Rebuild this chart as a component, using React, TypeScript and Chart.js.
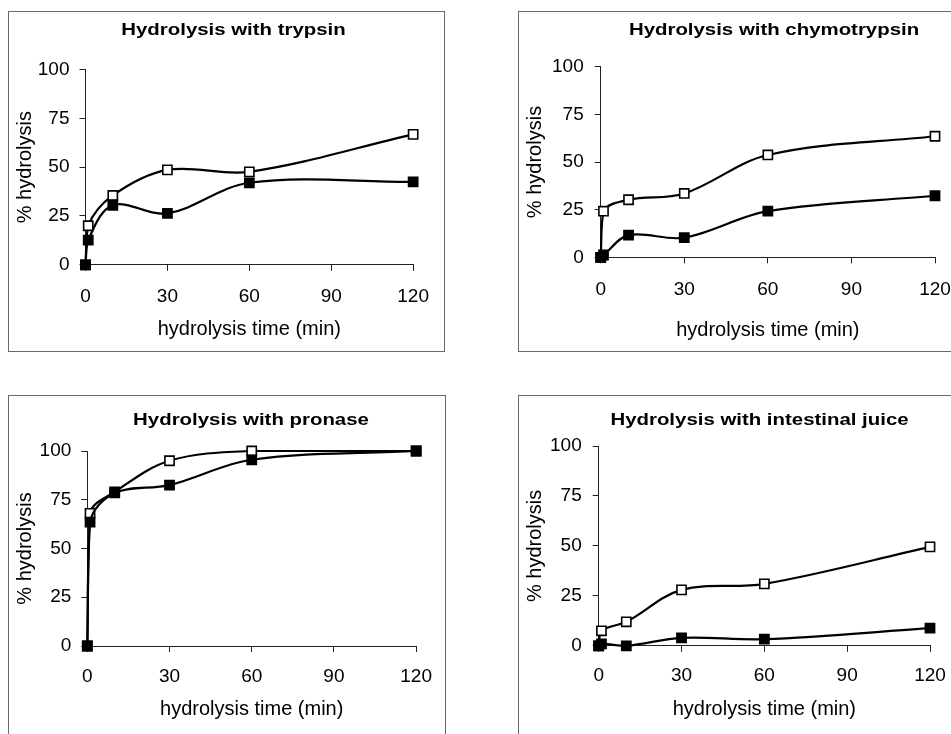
import React, { useEffect, useRef } from 'react';
import { Chart, registerables } from 'chart.js';

Chart.register(...registerables);

// ---- data ----
const timeMin = [0, 1, 10, 30, 60, 120];
const xTickValues = [0, 30, 60, 90, 120];
const yTickValues = [0, 25, 50, 75, 100];

const trypsinOpen = [0, 20, 35.5, 48.6, 47.6, 66.8];
const trypsinFilled = [0, 12.6, 30.5, 26.3, 42, 42.5];
const chymoOpen = [0, 24.2, 30.2, 33.5, 53.7, 63.5];
const chymoFilled = [0, 1.2, 11.6, 10.3, 24.2, 32.3];
const pronaseOpen = [0, 68, 79, 95, 100, 100];
const pronaseFilled = [0, 63.5, 78.5, 82.5, 95.5, 100];
const intestOpen = [0, 7.5, 12, 28, 31, 49.5];
const intestFilled = [0, 1, 0, 4, 3.3, 8.8];

const titles = [
  'Hydrolysis with trypsin',
  'Hydrolysis with chymotrypsin',
  'Hydrolysis with pronase',
  'Hydrolysis with intestinal juice',
];
const xAxisTitle = 'hydrolysis time (min)';
const yAxisTitle = '% hydrolysis';

const FONT = '"Liberation Sans", Arial, Helvetica, sans-serif';

type Rect = { x: number; y: number; w: number; h: number };
type Area = { l: number; t: number; r: number; b: number };
type PanelCfg = {
  title: string;
  open: number[];
  filled: number[];
  box: Rect;
  area: Area;
  titlePos: { x: number; y: number };
  yTitleX: number;
  xTitleY: number;
  yTickPad: number;
  xTickPad: number;
};

const panels: PanelCfg[] = [
  {
    title: titles[0], open: trypsinOpen, filled: trypsinFilled,
    box: { x: 8, y: 11, w: 437, h: 341 },
    area: { l: 85.5, t: 69.5, r: 423, b: 264.8 },
    titlePos: { x: 233.5, y: 35 }, yTitleX: 25.7, xTitleY: 329, yTickPad: 10, xTickPad: 15,
  },
  {
    title: titles[1], open: chymoOpen, filled: chymoFilled,
    box: { x: 518, y: 11, w: 470, h: 341 },
    area: { l: 600.7, t: 66.7, r: 935, b: 257.3 },
    titlePos: { x: 774, y: 35 }, yTitleX: 535.7, xTitleY: 330.5, yTickPad: 11, xTickPad: 15,
  },
  {
    title: titles[2], open: pronaseOpen, filled: pronaseFilled,
    box: { x: 8, y: 395, w: 438, h: 360 },
    area: { l: 87.3, t: 451, r: 422.3, b: 646 },
    titlePos: { x: 251, y: 425 }, yTitleX: 25.7, xTitleY: 709, yTickPad: 10, xTickPad: 13,
  },
  {
    title: titles[3], open: intestOpen, filled: intestFilled,
    box: { x: 518, y: 395, w: 470, h: 360 },
    area: { l: 598.7, t: 446, r: 930, b: 645.8 },
    titlePos: { x: 759.5, y: 425 }, yTitleX: 535.7, xTitleY: 709.5, yTickPad: 11, xTickPad: 13,
  },
];

const panelTitlePlugin = {
  id: 'panelTitle',
  afterDraw(chart: any, _args: any, opts: any) {
    const ctx = chart.ctx;
    ctx.save();
    ctx.font = `bold ${opts.size}px ${FONT}`;
    ctx.fillStyle = '#000';
    ctx.textAlign = 'center';
    ctx.textBaseline = 'alphabetic';
    ctx.translate(opts.x, opts.y);
    ctx.scale(opts.stretch, 1);
    ctx.fillText(opts.text, 0, 0);
    ctx.restore();
  },
};

function canvasRect(p: PanelCfg): Rect {
  const x = p.box.x + 1;
  const y = p.box.y + 1;
  const w = p.box.w - 2;
  const h = Math.round(p.xTitleY + 20 - y);
  return { x, y, w, h };
}

function Panel({ p }: { p: PanelCfg }) {
  const ref = useRef<HTMLCanvasElement | null>(null);
  const c = canvasRect(p);
  useEffect(() => {
    if (!ref.current) return;
    const yWidth = p.area.l - c.x;
    const xHeight = c.y + c.h - p.area.b;
    const tickFont = { family: FONT, size: 19 };
    const titleFont = { family: FONT, size: 20 };
    const mk = (vals: number[]) => timeMin.map((t, i) => ({ x: t, y: vals[i] }));
    const common = {
      borderColor: '#000',
      borderWidth: 2.2,
      pointStyle: 'rect',
      pointRadius: 6.5,
      pointHoverRadius: 6.5,
      pointBorderWidth: 1.6,
      pointBorderColor: '#000',
      tension: 0.35,
      clip: false as any,
      fill: false,
    };
    const chart = new Chart(ref.current, {
      type: 'line',
      data: {
        datasets: [
          { ...common, data: mk(p.filled), backgroundColor: '#000', pointBackgroundColor: '#000' },
          { ...common, data: mk(p.open), backgroundColor: '#fff', pointBackgroundColor: '#fff' },
        ],
      },
      plugins: [panelTitlePlugin as any],
      options: {
        animation: false,
        responsive: false,
        devicePixelRatio: 1,
        events: [],
        layout: {
          padding: { top: p.area.t - c.y, right: c.x + c.w - p.area.r, left: 0, bottom: 0 },
        },
        plugins: {
          legend: { display: false },
          tooltip: { enabled: false },
          title: { display: false },
          panelTitle: {
            text: p.title,
            x: p.titlePos.x - c.x,
            y: p.titlePos.y - c.y,
            size: 17,
            stretch: 1.2,
          },
        } as any,
        scales: {
          x: {
            type: 'linear',
            min: 0,
            max: 120,
            afterBuildTicks: (s: any) => { s.ticks = xTickValues.map((v) => ({ value: v })); },
            afterFit: (s: any) => { s.height = xHeight; },
            ticks: { font: tickFont, color: '#000', padding: p.xTickPad, maxRotation: 0 },
            grid: { drawOnChartArea: false, drawTicks: true, tickLength: 6, color: '#222', lineWidth: 1 },
            border: { display: true, color: '#222', width: 1 },
            title: {
              display: true,
              text: xAxisTitle,
              font: titleFont,
              color: '#000',
              padding: { top: 0, bottom: c.y + c.h - p.xTitleY - 12 },
            },
          },
          y: {
            type: 'linear',
            min: 0,
            max: 100,
            afterBuildTicks: (s: any) => { s.ticks = yTickValues.map((v) => ({ value: v })); },
            afterFit: (s: any) => { s.width = yWidth; },
            ticks: { font: tickFont, color: '#000', padding: p.yTickPad },
            grid: { drawOnChartArea: false, drawTicks: true, tickLength: 6, color: '#222', lineWidth: 1 },
            border: { display: true, color: '#222', width: 1 },
            title: {
              display: true,
              text: yAxisTitle,
              font: titleFont,
              color: '#000',
              padding: { top: p.yTitleX - c.x - 12, bottom: 0 },
            },
          },
        },
      } as any,
    });
    return () => chart.destroy();
  }, []);
  return (
    <>
      <div
        style={{
          position: 'absolute',
          left: p.box.x,
          top: p.box.y,
          width: p.box.w,
          height: p.box.h,
          boxSizing: 'border-box',
          border: '1px solid #6a6a6a',
        }}
      />
      <canvas
        ref={ref}
        width={c.w}
        height={c.h}
        style={{ position: 'absolute', left: c.x, top: c.y, width: c.w, height: c.h }}
      />
    </>
  );
}

export default function App() {
  return (
    <div
      style={{
        position: 'fixed',
        left: 0,
        top: 0,
        width: 951,
        height: 734,
        overflow: 'hidden',
        background: '#fff',
      }}
    >
      {panels.map((p, i) => (
        <Panel key={i} p={p} />
      ))}
    </div>
  );
}
